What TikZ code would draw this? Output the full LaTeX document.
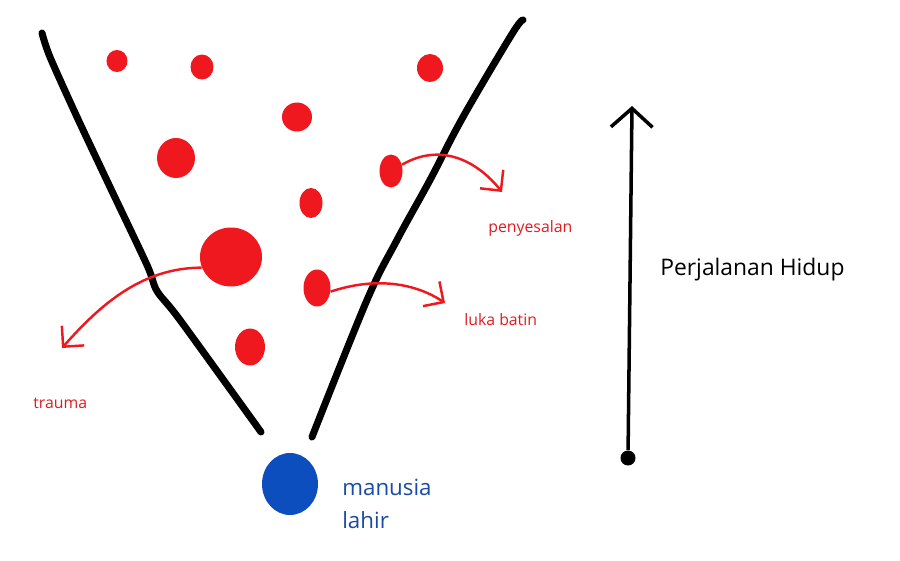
\documentclass[tikz,border=0pt]{standalone}
\usepackage{fontspec}
\setmainfont{Open Sans}
\usetikzlibrary{arrows.meta,shapes.geometric,positioning}

\definecolor{inkred}{RGB}{238,24,30}
\definecolor{labelred}{RGB}{226,26,32}
\definecolor{inkblue}{RGB}{12,78,190}
\definecolor{labelblue}{RGB}{24,74,166}

\begin{document}
\begin{tikzpicture}[x=0.02cm, y=-0.02cm,
  spot/.style={ellipse, fill=inkred, inner sep=0pt},
  wall/.style={line width=4pt, line cap=round, line join=round},
  hurt/.style={inkred, line width=1.4pt, -{Straight Barb[angle=90:4.2mm]}},
  redlabel/.style={text=labelred, font=\fontsize{9}{11}\selectfont, inner sep=0pt, anchor=base west}]

  \useasboundingbox (0,0) rectangle (900,561);

  % the two walls of the path
  \draw[wall] plot[smooth] coordinates {(42,33) (50,57) (77,117) (110,187) (147,265) (157,291) (180,320) (261,432)};
  \draw[wall] plot[smooth, tension=0.6] coordinates {(523,20) (512,34) (463,117) (430,180) (397,240) (367,300) (312,437)};

  % red spots inside the path
  \node[spot, minimum width=0.42cm, minimum height=0.44cm] (s1) at (117,61) {};
  \node[spot, minimum width=0.46cm, minimum height=0.50cm] (s2) at (202,67) {};
  \node[spot, minimum width=0.52cm, minimum height=0.56cm] (s3) at (430,68) {};
  \node[spot, minimum width=0.60cm, minimum height=0.58cm] (s4) at (297,117) {};
  \node[spot, minimum width=0.76cm, minimum height=0.80cm] (s5) at (176,158) {};
  \node[spot, minimum width=0.46cm, minimum height=0.66cm] (s6) at (391,171) {};
  \node[spot, minimum width=0.46cm, minimum height=0.60cm] (s7) at (311,203) {};
  \node[spot, minimum width=1.24cm, minimum height=1.18cm] (s8) at (231,257) {};
  \node[spot, minimum width=0.54cm, minimum height=0.74cm] (s9) at (317,288) {};
  \node[spot, minimum width=0.60cm, minimum height=0.74cm] (s10) at (250,347) {};

  % where life starts
  \node[ellipse, fill=inkblue, inner sep=0pt, minimum width=1.12cm, minimum height=1.24cm] (birth) at (290,484) {};

  % spots leaving the path
  \coordinate (traumaEnd) at (62,348);
  \coordinate (regretEnd) at (502,192);
  \coordinate (woundEnd) at (445,303);
  \draw[hurt] (s8.200) .. controls +(-60,0) and +(38,-43) .. (traumaEnd);
  \draw[hurt] (s6.30) .. controls +(40,-23) and +(-24,-30) .. (regretEnd);
  \draw[hurt] (s9.345) .. controls +(45,-15) and +(-30,-20) .. (woundEnd);

  % labels
  \node[redlabel] (trauma) at (33,408) {trauma};
  \node[redlabel] (regret) at (488,232) {penyesalan};
  \node[redlabel] (wound) at (464,325) {luka batin};
  \node[text=labelblue, font=\fontsize{12.7}{15}\selectfont, inner sep=0pt, anchor=base west] (born1) at (342,495) {manusia};
  \node[text=labelblue, font=\fontsize{12.7}{15}\selectfont, inner sep=0pt, anchor=base west] (born2) at (342,528) {lahir};

  % life arrow
  \node[circle, fill=black, inner sep=0pt, minimum size=0.3cm] (origin) at (628,458) {};
  \coordinate (lifeTop) at (632,106);
  \draw[line width=2pt, -{Straight Barb[angle=96:5.6mm]}] (origin) -- (lifeTop);
  \node[font=\fontsize{13}{16}\selectfont, inner sep=0pt, anchor=base west] (life) at (660,275) {Perjalanan Hidup};
\end{tikzpicture}
\end{document}
